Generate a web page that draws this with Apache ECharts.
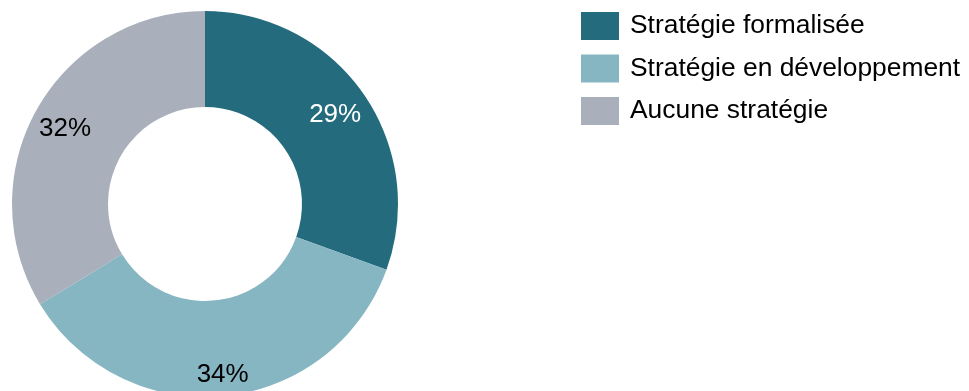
<!DOCTYPE html>
<html>
<head>
<meta charset="utf-8">
<script src="https://cdn.jsdelivr.net/npm/echarts@6/dist/echarts.min.js"></script>
<style>
  html, body { margin: 0; padding: 0; background: #fff; }
  #chart { width: 969px; height: 391px; }
</style>
</head>
<body>
<div id="chart"></div>
<script>
// Share of organisations by strategy status (%)
const categories = ['Stratégie formalisée', 'Stratégie en développement', 'Aucune stratégie'];
const values = [29, 34, 32];
const colors = ['#246B7D', '#87B6C3', '#A9AFBB'];
const labelColors = ['#ffffff', '#000000', '#000000'];
const labelOffsets = [[9, -4], [3, 24], [-11, -3]];

const chart = echarts.init(document.getElementById('chart'), null, { renderer: 'canvas' });

chart.setOption({
  animation: false,
  textStyle: { fontFamily: 'Liberation Sans, Arial, sans-serif' },
  legend: {
    orient: 'vertical',
    left: 581,
    top: 12,
    padding: 0,
    itemWidth: 38,
    itemHeight: 28,
    itemGap: 14.5,
    icon: 'rect',
    textStyle: { fontSize: 26.4, color: '#000', fontFamily: 'Liberation Sans, Arial, sans-serif', padding: [6, 0, 0, 6] },
    data: categories
  },
  series: [{
    type: 'pie',
    center: [205, 204],
    radius: [97, 193],
    startAngle: 90,
    clockwise: true,
    avoidLabelOverlap: false,
    silent: true,
    label: {
      show: true,
      position: 'inside',
      fontSize: 26,
      fontFamily: 'Liberation Sans, Arial, sans-serif',
      formatter: p => p.value + '%'
    },
    labelLine: { show: false },
    data: categories.map((name, i) => ({
      name,
      value: values[i],
      itemStyle: { color: colors[i] },
      label: { color: labelColors[i], offset: labelOffsets[i] }
    }))
  }]
});
</script>
</body>
</html>
